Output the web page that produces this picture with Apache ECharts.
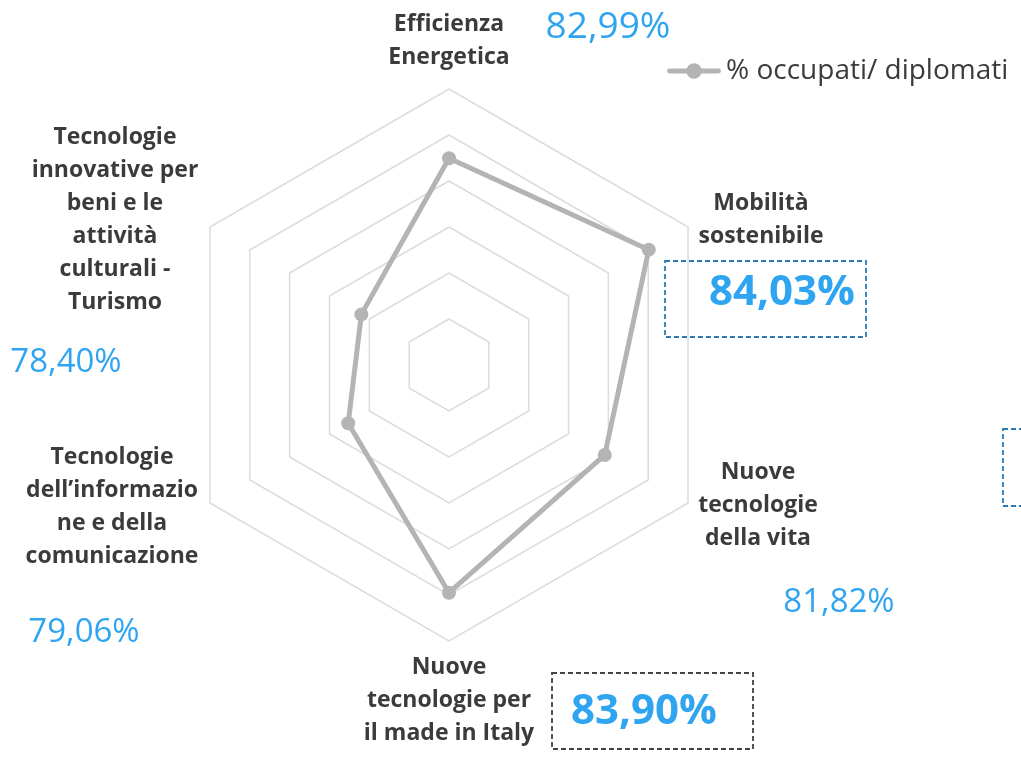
<!DOCTYPE html>
<html>
<head>
<meta charset="utf-8">
<title>% occupati/ diplomati</title>
<script src="https://cdn.jsdelivr.net/npm/echarts@6/dist/echarts.min.js"></script>
<style>
  html, body { margin: 0; padding: 0; background: #fff; }
  #main { width: 1021px; height: 771px; }
</style>
</head>
<body>
<div id="main"></div>
<script>
// indicator order follows ECharts radar (top, then counter-clockwise)
var areaNames = [
    'Efficienza\nEnergetica',
    'Tecnologie\ninnovative per\nbeni e le\nattività\nculturali -\nTurismo',
    'Tecnologie\ndell\u2019informazio\nne e della\ncomunicazione',
    'Nuove\ntecnologie per\nil made in Italy',
    'Nuove\ntecnologie\ndella vita',
    'Mobilità\nsostenibile'
];
var occupatiValues = [82.99, 78.40, 79.06, 83.90, 81.82, 84.03];
var seriesName = '% occupati/ diplomati';
var axisMin = 74;
var axisMax = 86;

// where each label sits on the page: [name x, name y, value x, value y, value size, bold]
var labelLayout = [
    [449, 41, 608, 27, 37, false],
    [115, 220, 66, 363, 33, false],
    [112, 507, 84, 633, 33, false],
    [449, 700, 644, 712, 42, true],
    [758, 505, 839, 603, 33, false],
    [761, 220, 782, 293, 42, true]
];

var labelFont = '"Open Sans", "Noto Sans", sans-serif';
var blue = '#2fa4f0';
var dark = '#3b3b3b';
var lineGrey = '#b4b4b4';

function fmtPct(v) {
    return v.toFixed(2).replace('.', ',') + '%';
}

var chart = echarts.init(document.getElementById('main'));

var graphics = [];
for (var i = 0; i < areaNames.length; i++) {
    var lay = labelLayout[i];
    graphics.push({
        type: 'text',
        x: lay[0],
        y: lay[1],
        style: {
            text: areaNames[i],
            fill: dark,
            font: 'bold 23px ' + labelFont,
            lineHeight: 33,
            align: 'center',
            verticalAlign: 'middle'
        }
    });
    graphics.push({
        type: 'text',
        x: lay[2],
        y: lay[3],
        style: {
            text: fmtPct(occupatiValues[i]),
            fill: blue,
            font: (lay[5] ? 'bold ' : '') + lay[4] + 'px ' + labelFont,
            align: 'center',
            verticalAlign: 'middle'
        }
    });
}
// dashed boxes round the highlighted values
graphics.push({
    type: 'rect',
    shape: { x: 665, y: 261, width: 201, height: 76 },
    style: { fill: 'none', stroke: '#2a7ab5', lineWidth: 1.8, lineDash: [5, 3] }
});
graphics.push({
    type: 'rect',
    shape: { x: 552, y: 673, width: 201, height: 76 },
    style: { fill: 'none', stroke: '#444', lineWidth: 1.8, lineDash: [5, 3] }
});
graphics.push({
    type: 'rect',
    shape: { x: 1003, y: 429, width: 60, height: 77 },
    style: { fill: 'none', stroke: '#2a7ab5', lineWidth: 1.8, lineDash: [5, 3] }
});

var option = {
    animation: false,
    legend: {
        data: [{
            name: seriesName,
            // line with a dot, like the series
            icon: 'path://M2,5.5 L52,5.5 A2.5,2.5 0 0 1 52,10.5 L2,10.5 A2.5,2.5 0 0 1 2,5.5 Z M19,8 A8,8 0 1 1 35,8 A8,8 0 1 1 19,8 Z'
        }],
        left: 662,
        top: 52,
        itemWidth: 54,
        itemHeight: 16,
        itemGap: 5,
        itemStyle: { color: lineGrey },
        textStyle: {
            fontFamily: labelFont,
            fontSize: 28,
            color: dark
        }
    },
    radar: {
        center: [449, 365],
        radius: 276,
        shape: 'polygon',
        splitNumber: 6,
        startAngle: 90,
        indicator: areaNames.map(function (n) {
            return { name: n, min: axisMin, max: axisMax };
        }),
        axisName: { show: false },
        axisLine: { show: false },
        axisTick: { show: false },
        axisLabel: { show: false },
        splitArea: { show: false },
        splitLine: {
            lineStyle: { color: '#dcdcdc', width: 1.5 }
        }
    },
    series: [{
        type: 'radar',
        name: seriesName,
        symbol: 'circle',
        symbolSize: 14,
        lineStyle: { color: lineGrey, width: 5 },
        itemStyle: { color: lineGrey },
        data: [{ name: seriesName, value: occupatiValues }]
    }],
    graphic: graphics
};

chart.setOption(option);
</script>
</body>
</html>
